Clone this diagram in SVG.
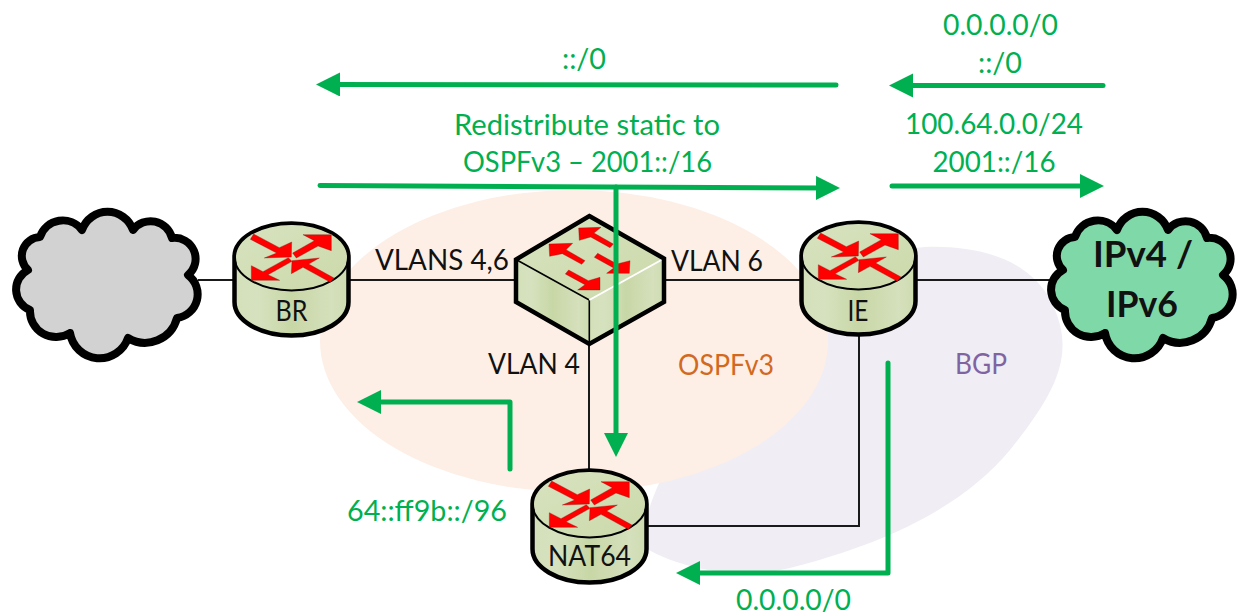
<svg xmlns="http://www.w3.org/2000/svg" xmlns:xlink="http://www.w3.org/1999/xlink" width="1239" height="615" viewBox="0 0 1239 615">
<style>
text{font-family:"Lato","Open Sans","Liberation Sans",sans-serif;font-size:29px;text-anchor:middle}
.g{fill:#00b050}
.k{fill:#111}
.link{fill:none;stroke:#1a1a1a;stroke-width:2}
.ga{fill:none;stroke:#00b050;stroke-width:5;stroke-linecap:round;stroke-linejoin:round}
.body{fill:url(#metal);stroke:#000;stroke-width:4.5}
.top{fill:url(#metalTop);stroke:none}
.rim{fill:none;stroke:#000;stroke-width:2}
.ra{fill:#f00;stroke:#7a1010;stroke-width:1;stroke-linejoin:miter}
.cloud{stroke:#000;stroke-width:8;stroke-linejoin:round}
</style>
<defs>
<linearGradient id="metal" x1="0" y1="0" x2="1" y2="0">
<stop offset="0" stop-color="#d3e0b9"/><stop offset=".2" stop-color="#d6e2bf"/><stop offset=".5" stop-color="#c8d7a6"/><stop offset=".85" stop-color="#d5e0bc"/><stop offset="1" stop-color="#cedcb0"/>
</linearGradient>
<linearGradient id="metalTop" x1="0" y1="0" x2="1" y2="1">
<stop offset="0" stop-color="#d8e3c0"/><stop offset="1" stop-color="#cbd9a9"/>
</linearGradient>
<marker id="ah" markerUnits="userSpaceOnUse" markerWidth="26" markerHeight="26" refX="10" refY="12" orient="auto">
<path d="M0,0L24,12L0,24Z" fill="#00b050"/>
</marker>
<g id="arrows4" transform="scale(.3333) translate(-214.5,-138)">
<polygon class="ra" points="101,69 178,110 215,93 214,138 133,141 170,126 91,85"/>
<polygon class="ra" points="218,126 283,89 249,71 334,71 334,119 294,105 229,141"/>
<polygon class="ra" points="205,140 129,182 94,164 94,208 179,208 144,191 216,151"/>
<polygon class="ra" points="342,201 266,159 298,141 216,149 214,188 249,169 331,214"/>
</g>
<g id="router">
<path class="body" d="M-57,0A57,33.5 0 0 1 57,0V45A57,33.5 0 0 1 -57,45Z"/>
<ellipse class="top" rx="55.5" ry="32"/>
<path class="rim" d="M-57,0A57,33.5 0 0 0 57,0"/>
<use xlink:href="#arrows4" href="#arrows4"/>
</g>
<path id="cloudShape" class="cloud" d="M40,237A24,24 0 0 1 82,230A27,27 0 0 1 133,230A22,22 0 0 1 172,238A21,21 0 0 1 188,275A24,24 0 0 1 177,318A33,33 0 0 1 128,338A30,30 0 0 1 70,333A26,26 0 0 1 30,310A22,22 0 0 1 28,270A19,19 0 0 1 40,237Z"/>
</defs>

<g id="regions">
<path id="bgp-region" fill="#f0eef4" d="M640,545C680,570 740,580 790,568C880,545 960,510 1010,450C1050,400 1070,365 1060,325C1045,262 985,245 925,247C860,250 800,300 760,340C700,400 650,480 640,545Z"/>
<ellipse id="ospf-region" cx="574" cy="341" rx="254" ry="151" fill="#fdefe6"/>
</g>

<g id="connectors">
<path class="link" d="M198,280H233"/>
<path class="link" d="M349,280H516"/>
<path class="link" d="M664,280H800"/>
<path class="link" d="M917,280H1050"/>
<path class="link" d="M589,344V470"/>
<path class="link" d="M859,336V526H648"/>
</g>

<g id="cloud-left"><use xlink:href="#cloudShape" href="#cloudShape" fill="#d2d2d2"/></g>
<g id="cloud-right"><use xlink:href="#cloudShape" href="#cloudShape" fill="#7fd8a8" transform="translate(1035,0)"/>
<text x="1143" y="267" class="k" style="font-size:37px;font-weight:700" textLength="100" lengthAdjust="spacingAndGlyphs">IPv4 /</text>
<text x="1142" y="317" class="k" style="font-size:37px;font-weight:700" textLength="72" lengthAdjust="spacingAndGlyphs">IPv6</text></g>

<g id="node-br"><use xlink:href="#router" href="#router" transform="translate(291.5,257)"/><text x="291.5" y="321" class="k" textLength="32" lengthAdjust="spacingAndGlyphs">BR</text></g>
<g id="node-ie"><use xlink:href="#router" href="#router" transform="translate(858.5,256)"/><text x="858" y="321" class="k" textLength="21" lengthAdjust="spacingAndGlyphs">IE</text></g>
<g id="node-nat64"><use xlink:href="#router" href="#router" transform="translate(589.5,504)"/><text x="589.5" y="566" class="k" textLength="83" lengthAdjust="spacingAndGlyphs">NAT64</text></g>

<g id="node-switch">
<path d="M516,259.5L589.3,300V344L516,302Z" fill="url(#metal)"/>
<path d="M664,258.5L589.3,300V344L664,302Z" fill="url(#metal)"/>
<path d="M589.3,216L664,258.5L589.3,300L516,259.5Z" fill="url(#metalTop)"/>
<path d="M516,259.5L589.3,300V344" fill="none" stroke="#000" stroke-width="1.6"/>
<path d="M589.3,300L664,258.5" fill="none" stroke="#fff" stroke-width="2"/>
<path d="M589.3,216L664,258.5V302L589.3,344L516,302V259.5Z" fill="none" stroke="#000" stroke-width="4.5" stroke-linejoin="miter"/>
<g transform="translate(500,200) scale(.3333)">
<polygon class="ra" points="340,132 330,143 272,111 238,121 236,84 303,82 282,99"/>
<polygon class="ra" points="255,182 245,193 187,161 149,169 147,132 218,130 198,149"/>
<polygon class="ra" points="206,210 196,222 255,254 233,270 300,270 300,232 265,242"/>
<polygon class="ra" points="293,160 283,172 341,204 320,220 388,220 390,182 351,192"/>
</g>
</g>

<g id="green-arrows">
<path class="ga" marker-end="url(#ah)" d="M836,85L330,84.5"/>
<path class="ga" marker-end="url(#ah)" d="M1103,85.5H903"/>
<path class="ga" marker-end="url(#ah)" d="M320,185.5L826,188"/>
<path class="ga" marker-end="url(#ah)" d="M892,186H1090"/>
<path class="ga" marker-end="url(#ah)" d="M616,187V443"/>
<path class="ga" marker-end="url(#ah)" d="M510,469V402H371"/>
<path class="ga" marker-end="url(#ah)" d="M888,363V573H690"/>
</g>

<g id="labels">
<text x="584" y="69" class="g" textLength="44" lengthAdjust="spacingAndGlyphs">::/0</text>
<text x="1000.5" y="35" class="g" textLength="115" lengthAdjust="spacingAndGlyphs">0.0.0.0/0</text>
<text x="1000" y="73" class="g" textLength="44" lengthAdjust="spacingAndGlyphs">::/0</text>
<text x="994" y="134" class="g" textLength="178" lengthAdjust="spacingAndGlyphs">100.64.0.0/24</text>
<text x="994" y="172" class="g" textLength="123" lengthAdjust="spacingAndGlyphs">2001::/16</text>
<text x="587" y="135" class="g" textLength="266" lengthAdjust="spacingAndGlyphs">Redistribute static to</text>
<text x="587.5" y="172" class="g" textLength="249" lengthAdjust="spacingAndGlyphs">OSPFv3 – 2001::/16</text>
<text x="442" y="270" class="k" textLength="134" lengthAdjust="spacingAndGlyphs">VLANS 4,6</text>
<text x="717" y="271" class="k" textLength="92" lengthAdjust="spacingAndGlyphs">VLAN 6</text>
<text x="534" y="374" class="k" textLength="92" lengthAdjust="spacingAndGlyphs">VLAN 4</text>
<text x="726" y="375" style="fill:#d2691e" textLength="96" lengthAdjust="spacingAndGlyphs">OSPFv3</text>
<text x="981" y="374" style="fill:#8064a2" textLength="52" lengthAdjust="spacingAndGlyphs">BGP</text>
<text x="427" y="521" class="g" textLength="160" lengthAdjust="spacingAndGlyphs">64::ff9b::/96</text>
<text x="793.5" y="610" class="g" textLength="115" lengthAdjust="spacingAndGlyphs">0.0.0.0/0</text>
</g>
</svg>
